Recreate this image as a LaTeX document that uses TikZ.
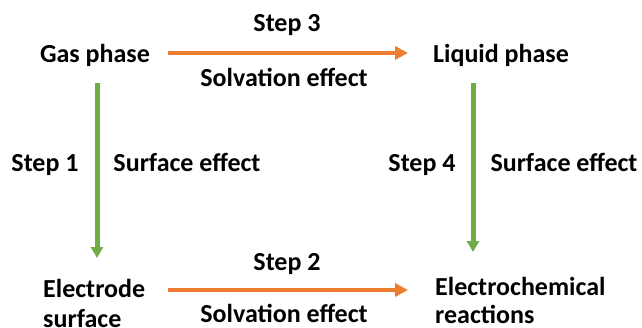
\documentclass[tikz,border=0pt]{standalone}
\usepackage{fontspec}
\setmainfont{Carlito}
\usetikzlibrary{arrows.meta}
\definecolor{oorange}{RGB}{237,125,49}
\definecolor{ogreen}{RGB}{112,173,71}
\begin{document}
\begin{tikzpicture}[x=1pt,y=1pt,
  lbl/.style={font=\fontsize{26}{30}\selectfont\bfseries, inner sep=0pt, anchor=base},
  harrow/.style={draw=oorange, line width=4pt, -{Triangle[length=13pt,width=13pt]}},
  varrow/.style={draw=ogreen, line width=5pt, -{Triangle[length=11pt,width=12pt]}}]
\useasboundingbox (0,0) rectangle (642,327);
\node[lbl] (gas) at (95,264) {Gas phase};
\node[lbl] (liq) at (501,264) {Liquid phase};
\node[lbl, anchor=base west, font=\fontsize{26}{30}\selectfont\bfseries] (elec) at (43,30)
  {\begin{tabular}[t]{@{}l@{}}Electrode\\surface\end{tabular}};
\node[lbl, anchor=base west, font=\fontsize{26}{28}\selectfont\bfseries] (ecr) at (435,32)
  {\begin{tabular}[t]{@{}l@{}}Electrochemical\\reactions\end{tabular}};
\node[lbl] (s3) at (287,295) {Step 3};
\node[lbl] (sv3) at (284,240) {Solvation effect};
\node[lbl] (s2) at (287,57) {Step 2};
\node[lbl] (sv2) at (284,5) {Solvation effect};
\node[lbl] (s1) at (45,155) {Step 1};
\node[lbl] (se1) at (187,155) {Surface effect};
\node[lbl] (s4) at (422,155) {Step 4};
\node[lbl] (se4) at (564,155) {Surface effect};
\coordinate (a3s) at (168,274);
\coordinate (a3e) at (408,274);
\coordinate (a2s) at (168,37);
\coordinate (a2e) at (408,37);
\coordinate (a1s) at (97,244);
\coordinate (a1e) at (97,69);
\coordinate (a4s) at (473,244);
\coordinate (a4e) at (473,75);
\draw[harrow] (a3s) -- (a3e);
\draw[harrow] (a2s) -- (a2e);
\draw[varrow] (a1s) -- (a1e);
\draw[varrow] (a4s) -- (a4e);
\end{tikzpicture}
\end{document}
